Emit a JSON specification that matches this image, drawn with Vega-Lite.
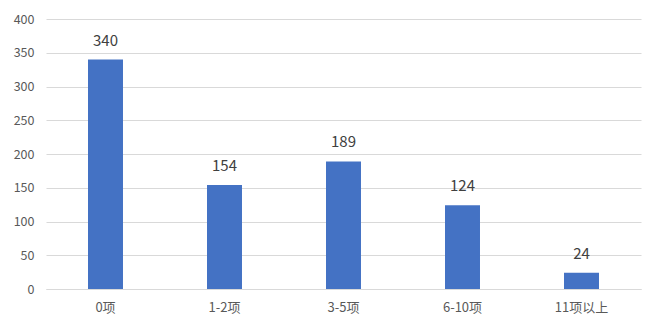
{
  "$schema": "https://vega.github.io/schema/vega-lite/v6.json",
  "autosize": {"type": "none"},
  "width": 595,
  "height": 270,
  "padding": {"left": 46, "top": 19, "right": 20, "bottom": 41},
  "background": "white",
  "data": {"values": [
    {"cat": "0项", "value": 340},
    {"cat": "1-2项", "value": 154},
    {"cat": "3-5项", "value": 189},
    {"cat": "6-10项", "value": 124},
    {"cat": "11项以上", "value": 24}
  ]},
  "encoding": {
    "x": {"field": "cat", "type": "nominal", "sort": null,
      "scale": {"paddingInner": 0.706, "paddingOuter": 0.353},
      "axis": {"title": null, "labelAngle": 0, "ticks": false, "domain": true, "domainColor": "#d9d9d9", "labelColor": "#595959", "labelFontSize": 13, "labelFont": "Noto Sans CJK SC", "labelPadding": 12}},
    "y": {"field": "value", "type": "quantitative",
      "scale": {"domain": [0, 400]},
      "axis": {"title": null, "values": [0, 50, 100, 150, 200, 250, 300, 350, 400], "ticks": false, "domain": false, "gridColor": "#d9d9d9", "labelColor": "#595959", "labelFontSize": 12.5, "labelFont": "Noto Sans CJK SC", "labelPadding": 12}}
  },
  "layer": [
    {"mark": {"type": "bar", "color": "#4472c4"}},
    {"mark": {"type": "text", "dy": -11, "baseline": "bottom", "fontSize": 15, "color": "#404040", "font": "Noto Sans CJK SC"},
     "encoding": {"text": {"field": "value", "type": "quantitative"}}}
  ],
  "config": {"view": {"stroke": null}}
}
